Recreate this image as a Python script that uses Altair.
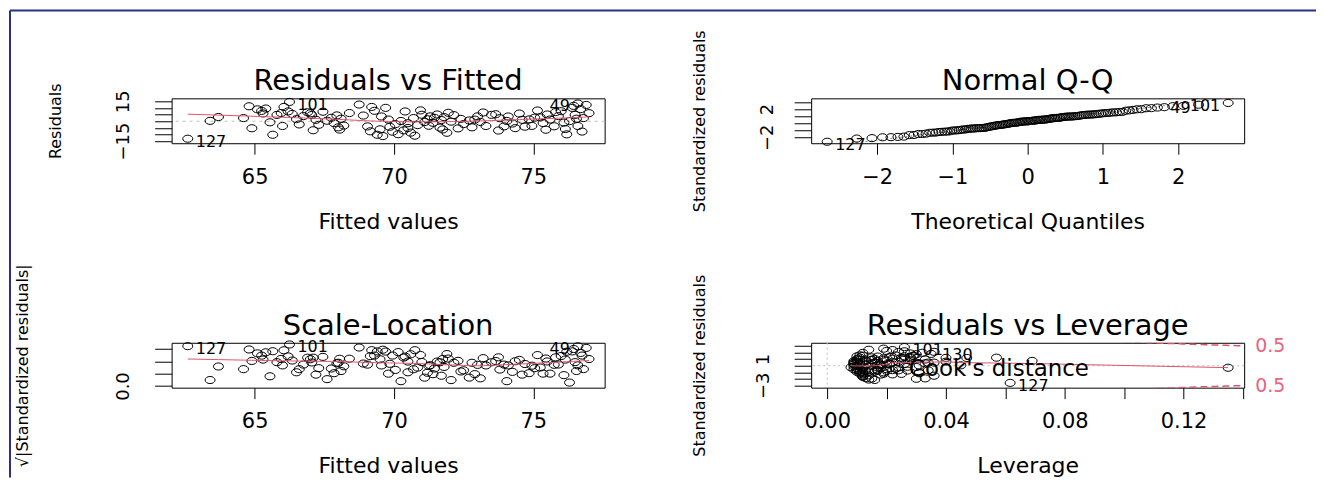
import altair as alt
import pandas as pd
import numpy as np
from statistics import NormalDist

fitted = [63.4, 63.7, 64.6, 64.8, 64.9, 65.1, 65.25, 65.4, 65.55, 65.65,
          65.8, 65.95, 66.0, 66.2, 66.35, 66.5, 66.6, 66.75, 66.9, 67.05,
          67.2, 67.3, 67.45, 67.6, 67.75, 67.85, 67.95, 68.0, 68.05, 68.1,
          68.2, 66.05, 65.3, 67.1, 68.75, 68.9, 69.05, 69.15, 69.3, 69.4,
          69.5, 69.6, 69.7, 69.8, 69.85, 69.95, 70.05, 70.15, 76.6, 70.25,
          70.4, 70.5, 70.6, 70.7, 70.85, 71.0, 71.1, 71.2, 71.3, 71.4,
          71.45, 71.55, 71.65, 71.7, 71.8, 71.9, 71.95, 72.05, 72.15, 72.3,
          72.4, 71.25, 70.95, 70.35, 69.55, 72.5, 71.75, 70.75, 72.7, 72.9,
          73.1, 73.3, 73.5, 73.65, 73.8, 73.95, 74.1, 74.25, 74.35, 74.5,
          74.6, 74.7, 74.85, 74.95, 75.05, 73.2, 73.75, 74.05, 72.8, 75.15,
          66.25, 75.35, 75.5, 75.6, 75.75, 75.9, 76.0, 76.1, 76.2, 76.3,
          76.4, 76.5, 76.6, 76.7, 76.8, 76.9, 77.0, 75.45, 75.8, 76.15,
          76.45, 75.25, 76.75, 76.55, 70.5, 68.4, 62.6, 73.0, 67.0, 69.2]
resid = [0.3, 3.2, 2.4, 11.3, -5.3, 9.0, 7.8, 9.6, -0.8, -10.2,
         4.8, 6.2, -3.6, 7.4, 5.5, 1.6, -2.4, 3.9, 6.8, 4.7,
         1.1, -2.7, 7.2, 0.4, 2.6, -1.4, 4.4, -4.6, -6.3, 1.9,
         -3.3, 10.8, 5.9, -6.8, 12.6, 4.3, -3.9, -7.6, 7.9, -10.2,
         -6.1, -11.2, 10.1, 1.3, -4.2, -7.9, -2.2, -9.8, 13.4, 0.2,
         7.4, -5.1, -8.6, 2.4, -2.9, 4.9, -0.6, 1.5, 3.7, -1.2,
         2.6, 5.1, -4.8, 0.9, 3.1, -8.7, 6.4, -0.3, 4.6, -5.4,
         1.8, -3.4, 8.2, -6.9, 3.6, -2.1, -6.2, -10.9, 0.6, 1.2,
         -0.5, -3.6, 4.8, 5.3, 2.3, -3.9, 3.6, -1.7, -5.2, 5.8,
         1.1, -4.1, 1.4, -3.5, 2.7, 6.6, -7.0, 0.2, -4.6, 8.1,
         14.6, -1.3, 5.1, 1.3, -3.8, 3.9, 7.6, -1.0, -9.9, 0.1,
         10.1, 4.8, -3.6, 9.2, 2.4, 12.3, 6.1, -6.4, 6.9, -5.9,
         11.6, 2.9, -7.8, 1.9, -1.5, 6.2, -13.2, 3.7, 6.0, 10.8]
leverage = [0.045, 0.040, 0.034, 0.026, 0.031, 0.030, 0.029, 0.028, 0.027, 0.030,
            0.026, 0.025, 0.024, 0.026, 0.022, 0.021, 0.023, 0.020, 0.021, 0.019,
            0.018, 0.020, 0.017, 0.018, 0.016, 0.017, 0.015, 0.016, 0.019, 0.015,
            0.017, 0.024, 0.028, 0.022, 0.014, 0.013, 0.013, 0.014, 0.012, 0.015,
            0.012, 0.016, 0.012, 0.011, 0.011, 0.012, 0.010, 0.013, 0.019, 0.010,
            0.010, 0.011, 0.012, 0.009, 0.009, 0.010, 0.009, 0.009, 0.009, 0.008,
            0.009, 0.010, 0.010, 0.009, 0.010, 0.012, 0.011, 0.010, 0.011, 0.012,
            0.011, 0.010, 0.011, 0.012, 0.013, 0.012, 0.011, 0.014, 0.013, 0.013,
            0.014, 0.015, 0.015, 0.016, 0.016, 0.017, 0.017, 0.018, 0.019, 0.019,
            0.020, 0.020, 0.021, 0.022, 0.022, 0.015, 0.018, 0.017, 0.014, 0.023,
            0.026, 0.024, 0.025, 0.026, 0.027, 0.028, 0.029, 0.030, 0.033, 0.031,
            0.032, 0.033, 0.034, 0.035, 0.036, 0.022, 0.040, 0.025, 0.028, 0.031,
            0.020, 0.024, 0.036, 0.033, 0.135, 0.057, 0.0616, 0.069, 0.047, 0.036]
panel_titles = ["Residuals vs Fitted", "Normal Q-Q", "Scale-Location", "Residuals vs Leverage"]

SIGMA = 5.2        # residual standard error
N_PARAMS = 3       # model parameters
COOK_LEVEL = 0.5

FONT = "DejaVu Sans"
RED = "#DF536B"
PINK = "#E8647C"
GREY = "#BEBEBE"

# ---- derived quantities (as plot.lm computes them) ----
n = len(fitted)
df = pd.DataFrame({"id": list(range(1, n + 1)), "fitted": fitted, "resid": resid, "h": leverage})
df["std"] = df["resid"] / (SIGMA * np.sqrt(1 - df["h"]))
df["sqrtabs"] = np.sqrt(np.abs(df["std"]))
ranks = df["std"].rank(method="first")
df["theo"] = [NormalDist().inv_cdf((r - 0.5) / n) for r in ranks]
df["cook"] = df["std"] ** 2 * df["h"] / (N_PARAMS * (1 - df["h"]))

top_res = df.loc[df["std"].abs().sort_values(ascending=False).index[:3]]
top_cook = df.loc[df["cook"].sort_values(ascending=False).index[:3]]

# domains
X13 = [62.02, 77.56]
Y1 = [-16.6, 17.3]
X2 = [-2.878, 2.878]
Y2 = [-2.83, 3.5]
Y3 = [-0.067, 1.755]
X4 = [-0.0054, 0.1404]
Y4 = [-3.35, 3.5]

q25, q75 = np.quantile(df["std"], [0.25, 0.75])
z25, z75 = NormalDist().inv_cdf(0.25), NormalDist().inv_cdf(0.75)
slope = (q75 - q25) / (z75 - z25)
icpt = q25 - slope * z25
qq_line = pd.DataFrame({"theo": X2, "std": [icpt + slope * X2[0], icpt + slope * X2[1]]})

W, H = 434, 45
ELLIPSE = ("M 1.4 0 C 1.4 0.5523 0.7732 1 0 1 C -0.7732 1 -1.4 0.5523 -1.4 0 "
           "C -1.4 -0.5523 -0.7732 -1 0 -1 C 0.7732 -1 1.4 -0.5523 1.4 0 Z")


def xaxis(values, title, fmt=None, expr=None):
    kw = dict(values=values, tickSize=11, tickColor="black", domain=False, grid=False,
              labelFontSize=21, labelColor="black", labelPadding=23, labelBaseline="middle",
              labelAngle=0, labelFlush=False, labelOverlap=False, title=title,
              titleFontSize=22, titleFontWeight="normal", titleColor="black",
              titleY=78, titleBaseline="middle")
    if fmt:
        kw["format"] = fmt
    if expr:
        kw["labelExpr"] = expr
    return alt.Axis(**kw)


def yaxis(values, title, expr, title_x, fmt=None, lab_off=48):
    kw = dict(values=values, tickSize=17, tickColor="black", domain=False, grid=False,
              labelAngle=270, labelAlign="center", labelBaseline="middle",
              labelPadding=lab_off - 17, labelFontSize=18, labelColor="black",
              labelOverlap=False, labelExpr=expr, title=title, titleX=title_x,
              titleY=H / 2, titleAngle=270, titleAlign="center", titleBaseline="middle",
              titleFontSize=16, titleFontWeight="normal", titleColor="black")
    if fmt:
        kw["format"] = fmt
    return alt.Axis(**kw)


def title_mark(t):
    return alt.Chart(pd.DataFrame({"t": [t]})).mark_text(
        fontSize=29, baseline="middle", align="center", color="black").encode(
        x=alt.value(W / 2), y=alt.value(-17), text="t:N")


def pts(data, xf, yf, xe, ye):
    return alt.Chart(data).mark_point(shape=ELLIPSE, size=51, filled=False, stroke="black",
                                      strokeWidth=1, opacity=1).encode(
        x=alt.X(xf, type="quantitative", **xe), y=alt.Y(yf, type="quantitative", **ye))


def labels(data, xf, yf, xe, ye, right=True):
    return alt.Chart(data).mark_text(align="left" if right else "right", dx=8 if right else -8,
                                     dy=3, fontSize=16, color="black").encode(
        x=alt.X(xf, type="quantitative", **xe), y=alt.Y(yf, type="quantitative", **ye),
        text="id:N")


def hline(v, ye, dash=(3, 4)):
    return alt.Chart(pd.DataFrame({"v": [v]})).mark_rule(color=GREY, strokeDash=list(dash),
                                                         strokeWidth=1).encode(
        y=alt.Y("v:Q", **ye))


# ---------- panel 1: Residuals vs Fitted ----------
xe1 = dict(scale=alt.Scale(domain=X13, nice=False, zero=False),
           axis=xaxis([65, 70, 75], "Fitted values"))
ye1 = dict(scale=alt.Scale(domain=Y1, nice=False, zero=False),
           axis=yaxis([-15, -10, -5, 0, 5, 10, 15], "Residuals",
                      "datum.value == 15 || datum.value == -15 ? datum.label : ''", -116))
mid13 = (min(fitted) + max(fitted)) / 2
frame_df = pd.DataFrame({"k": [0]})
frame_top = alt.Chart(frame_df).mark_rule(color="#2E2E85", strokeWidth=2).encode(
    x=alt.value(-162), x2=alt.value(1147), y=alt.value(-88), y2=alt.value(-88))
frame_left = alt.Chart(frame_df).mark_rule(color="#2E2E85", strokeWidth=2).encode(
    x=alt.value(-162), x2=alt.value(-162), y=alt.value(-88), y2=alt.value(380))
p1 = alt.layer(
    frame_top, frame_left,
    hline(0, ye1),
    pts(df, "fitted", "resid", xe1, ye1),
    alt.Chart(df).transform_loess("fitted", "resid", bandwidth=0.67).mark_line(
        color=RED, strokeWidth=1).encode(x=alt.X("fitted:Q", **xe1), y=alt.Y("resid:Q", **ye1)),
    labels(top_res[top_res.fitted < mid13], "fitted", "resid", xe1, ye1, True),
    labels(top_res[top_res.fitted >= mid13], "fitted", "resid", xe1, ye1, False),
    title_mark(panel_titles[0]),
).properties(width=W, height=H)

# ---------- panel 2: Normal Q-Q ----------
xe2 = dict(scale=alt.Scale(domain=X2, nice=False, zero=False),
           axis=xaxis([-2, -1, 0, 1, 2], "Theoretical Quantiles", fmt="d"))
ye2 = dict(scale=alt.Scale(domain=Y2, nice=False, zero=False),
           axis=yaxis([-2, -1, 0, 1, 2, 3], "Standardized residuals",
                      "datum.value == 2 || datum.value == -2 ? datum.label : ''", -112, lab_off=44))
p2 = alt.layer(
    alt.Chart(qq_line).mark_line(color="#7F7F7F", strokeDash=[2, 3], strokeWidth=1, clip=True).encode(
        x=alt.X("theo:Q", **xe2), y=alt.Y("std:Q", **ye2)),
    pts(df, "theo", "std", xe2, ye2),
    labels(top_res[top_res.theo < 0], "theo", "std", xe2, ye2, True),
    labels(top_res[top_res.theo >= 0], "theo", "std", xe2, ye2, False),
    title_mark(panel_titles[1]),
).properties(width=W, height=H)

# ---------- panel 3: Scale-Location ----------
xe3 = dict(scale=alt.Scale(domain=X13, nice=False, zero=False),
           axis=xaxis([65, 70, 75], "Fitted values"))
ye3 = dict(scale=alt.Scale(domain=Y3, nice=False, zero=False),
           axis=yaxis([0, 0.5, 1.0, 1.5], "√|Standardized residuals|",
                      "datum.value == 0 ? datum.label : ''", -149, fmt=".1f"))
p3 = alt.layer(
    pts(df, "fitted", "sqrtabs", xe3, ye3),
    alt.Chart(df).transform_loess("fitted", "sqrtabs", bandwidth=0.67).mark_line(
        color=RED, strokeWidth=1).encode(x=alt.X("fitted:Q", **xe3), y=alt.Y("sqrtabs:Q", **ye3)),
    labels(top_res[top_res.fitted < mid13], "fitted", "sqrtabs", xe3, ye3, True),
    labels(top_res[top_res.fitted >= mid13], "fitted", "sqrtabs", xe3, ye3, False),
    title_mark(panel_titles[2]),
).properties(width=W, height=H)

# ---------- panel 4: Residuals vs Leverage ----------
lev_expr = ("abs(datum.value) < 0.001 || abs(datum.value - 0.04) < 0.001 || "
            "abs(datum.value - 0.08) < 0.001 || abs(datum.value - 0.12) < 0.001 ? datum.label : ''")
xe4 = dict(scale=alt.Scale(domain=X4, nice=False, zero=False),
           axis=xaxis([0, 0.02, 0.04, 0.06, 0.08, 0.1, 0.12, 0.14], "Leverage", fmt=".2f", expr=lev_expr))
ye4 = dict(scale=alt.Scale(domain=Y4, nice=False, zero=False),
           axis=yaxis([-3, -2, -1, 0, 1, 2, 3], "Standardized residuals",
                      "datum.value == 1 || datum.value == -3 ? datum.label : ''", -112))
cook_curve = alt.Chart(alt.sequence(0.004, 0.1405, 0.0005, as_="h")).transform_calculate(
    c=f"sqrt({COOK_LEVEL} * {N_PARAMS} * (1 - datum.h) / datum.h)", nc="-datum.c")
cook_lab = pd.DataFrame({"h": [X4[1], X4[1]], "sign": [1, -1], "lab": ["0.5", "0.5"]})
p4 = alt.layer(
    alt.Chart(pd.DataFrame({"v": [0.0]})).mark_rule(color=GREY, strokeDash=[2, 3]).encode(
        x=alt.X("v:Q", **xe4)),
    hline(0, ye4, dash=(2, 3)),
    pts(df, "h", "std", xe4, ye4),
    alt.Chart(df).transform_loess("h", "std", bandwidth=0.67).mark_line(
        color=RED, strokeWidth=1).encode(x=alt.X("h:Q", **xe4), y=alt.Y("std:Q", **ye4)),
    cook_curve.mark_line(color=RED, strokeDash=[7, 4], strokeWidth=1.5, clip=True).encode(
        x=alt.X("h:Q", **xe4), y=alt.Y("c:Q", **ye4)),
    cook_curve.mark_line(color=RED, strokeDash=[7, 4], strokeWidth=1.5, clip=True).encode(
        x=alt.X("h:Q", **xe4), y=alt.Y("nc:Q", **ye4)),
    alt.Chart(cook_lab).transform_calculate(
        y=f"datum.sign * sqrt({COOK_LEVEL} * {N_PARAMS} * (1 - datum.h) / datum.h)").mark_text(
        align="left", baseline="middle", dx=11, fontSize=19, color=PINK).encode(
        x=alt.X("h:Q", **xe4), y=alt.Y("y:Q", **ye4), text="lab:N"),
    alt.Chart(pd.DataFrame({"h": [0.0275], "y": [-0.5], "t": ["Cook's distance"]})).mark_text(
        align="left", baseline="middle", fontSize=23, color="black").encode(
        x=alt.X("h:Q", **xe4), y=alt.Y("y:Q", **ye4), text="t:N"),
    labels(top_cook, "h", "std", xe4, ye4, True),
    title_mark(panel_titles[3]),
).properties(width=W, height=H)

chart = alt.concat(
    p1, p2, p3, p4, columns=2, bounds="flush",
    spacing=alt.RowColnumber(row=200, column=207), padding=0,
).configure(font=FONT, background="white").configure_view(stroke="black", strokeWidth=1)

chart.save("out.html", embed_options={"renderer": "svg", "actions": False})
